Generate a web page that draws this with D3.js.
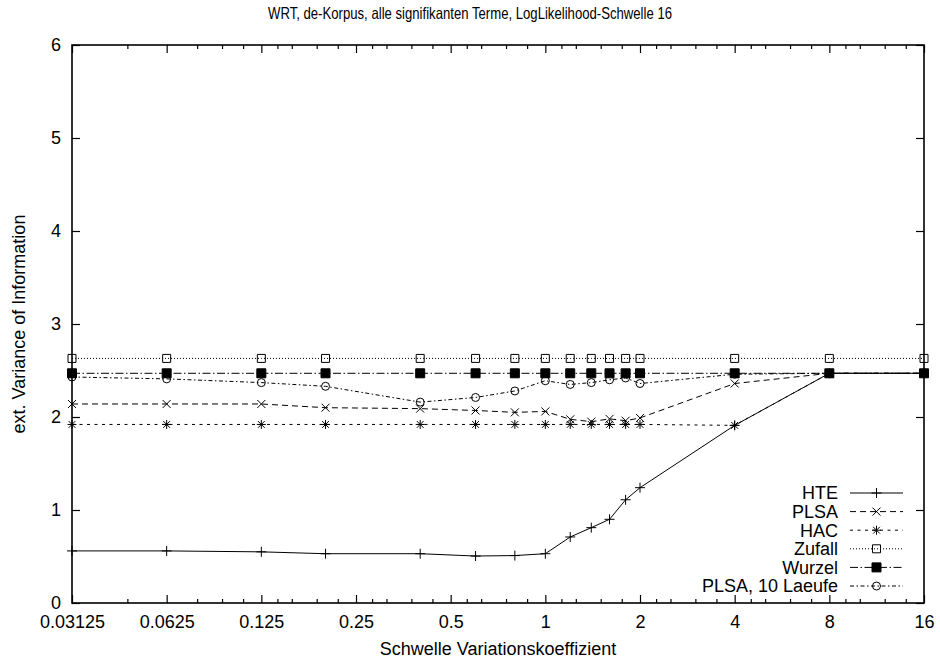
<!DOCTYPE html>
<html>
<head>
<meta charset="utf-8">
<script src="https://cdn.jsdelivr.net/npm/d3@7"></script>
<style>
  body { margin: 0; background: #fff; }
  svg { display: block; }
  text { font-family: "Liberation Sans", Arial, Helvetica, sans-serif; fill: #000; }
</style>
</head>
<body>
<svg id="chart" width="940" height="660"></svg>
<script>
// ---- data ----
const xValues = [0.03125, 0.0625, 0.125, 0.2, 0.4, 0.6, 0.8, 1, 1.2, 1.4, 1.6, 1.8, 2, 4, 8, 16];
const hteValues    = [0.56, 0.56, 0.55, 0.53, 0.53, 0.505, 0.51, 0.53, 0.71, 0.81, 0.90, 1.11, 1.24, 1.91, 2.47, 2.47];
const plsaValues   = [2.14, 2.14, 2.14, 2.10, 2.09, 2.07, 2.05, 2.06, 1.975, 1.95, 1.98, 1.96, 1.99, 2.36, 2.47, 2.47];
const hacValues    = [1.92, 1.92, 1.92, 1.92, 1.92, 1.92, 1.92, 1.92, 1.92, 1.92, 1.92, 1.92, 1.92, 1.91, 2.47, 2.47];
const zufallValues = [2.63, 2.63, 2.63, 2.63, 2.63, 2.63, 2.63, 2.63, 2.63, 2.63, 2.63, 2.63, 2.63, 2.63, 2.63, 2.63];
const wurzelValues = [2.47, 2.47, 2.47, 2.47, 2.47, 2.47, 2.47, 2.47, 2.47, 2.47, 2.47, 2.47, 2.47, 2.47, 2.47, 2.47];
const plsa10Values = [2.43, 2.41, 2.37, 2.33, 2.16, 2.21, 2.28, 2.39, 2.35, 2.37, 2.40, 2.42, 2.36, 2.46, 2.47, 2.47];

const seriesNames = ["HTE", "PLSA", "HAC", "Zufall", "Wurzel", "PLSA, 10 Laeufe"];
const xTickValues = [0.03125, 0.0625, 0.125, 0.25, 0.5, 1, 2, 4, 8, 16];
const xTickLabels = ["0.03125", "0.0625", "0.125", "0.25", "0.5", "1", "2", "4", "8", "16"];
const yTickValues = [0, 1, 2, 3, 4, 5, 6];
const titleText = "WRT, de-Korpus, alle signifikanten Terme, LogLikelihood-Schwelle 16";
const xLabelText = "Schwelle Variationskoeffizient";
const yLabelText = "ext. Variance of Information";

// ---- layout ----
const L = 72, R = 924, T = 45, B = 603;
const svg = d3.select("#chart");

const x = d3.scaleLog().base(2).domain([0.03125, 16]).range([L, R]);
const y = d3.scaleLinear().domain([0, 6]).range([B, T]);

// minor ticks (gnuplot-like)
const minorTicks = [];
xTickValues.slice(0, -1).forEach((base, i) => {
  const mults = i === 0 ? [1.5] : (i === 1 ? [1.25, 1.5, 1.75] : [1.125, 1.25, 1.5, 1.75]);
  mults.forEach(m => minorTicks.push(base * m));
});

const axisStyle = g => {
  g.select(".domain").remove();
  g.selectAll(".tick line").attr("stroke", "#000").attr("stroke-width", 1.2);
  g.selectAll(".tick text").style("font-size", "18px").attr("fill", "#000");
};

// bottom
svg.append("g").attr("transform", `translate(0,${B})`)
  .call(d3.axisBottom(x).tickValues(xTickValues).tickFormat((d, i) => xTickLabels[i]).tickSize(-8).tickPadding(12))
  .call(axisStyle);
svg.append("g").attr("transform", `translate(0,${B})`)
  .call(d3.axisBottom(x).tickValues(minorTicks).tickFormat("").tickSize(-4))
  .call(axisStyle);
// top
svg.append("g").attr("transform", `translate(0,${T})`)
  .call(d3.axisTop(x).tickValues(xTickValues).tickFormat("").tickSize(-8))
  .call(axisStyle);
svg.append("g").attr("transform", `translate(0,${T})`)
  .call(d3.axisTop(x).tickValues(minorTicks).tickFormat("").tickSize(-4))
  .call(axisStyle);
// left
svg.append("g").attr("transform", `translate(${L},0)`)
  .call(d3.axisLeft(y).tickValues(yTickValues).tickFormat(d3.format("d")).tickSize(-8).tickPadding(11))
  .call(axisStyle);
// right
svg.append("g").attr("transform", `translate(${R},0)`)
  .call(d3.axisRight(y).tickValues(yTickValues).tickFormat("").tickSize(-8))
  .call(axisStyle);

svg.selectAll("g").attr("font-family", null);

// frame
svg.append("rect").attr("x", L).attr("y", T).attr("width", R - L).attr("height", B - T)
  .attr("fill", "none").attr("stroke", "#000").attr("stroke-width", 1.6);

// titles
svg.append("text").attr("x", 470).attr("y", 19).attr("text-anchor", "middle")
  .style("font-size", "16.5px").attr("textLength", 404).attr("lengthAdjust", "spacingAndGlyphs").text(titleText);
svg.append("text").attr("x", (L + R) / 2).attr("y", 655).attr("text-anchor", "middle")
  .style("font-size", "18px").text(xLabelText);
svg.append("text").attr("transform", `translate(25,${(T + B) / 2}) rotate(-90)`).attr("text-anchor", "middle")
  .style("font-size", "18px").text(yLabelText);

// ---- markers ----
function markerPath(type, s) {
  const h = s / 2;
  switch (type) {
    case "plus": return `M${-h},0H${h}M0,${-h}V${h}`;
    case "cross": return `M${-h},${-h}L${h},${h}M${-h},${h}L${h},${-h}`;
    case "star": return `M${-h},0H${h}M0,${-h}V${h}M${-h*0.75},${-h*0.75}L${h*0.75},${h*0.75}M${-h*0.75},${h*0.75}L${h*0.75},${-h*0.75}`;
    case "square": return `M${-h},${-h}H${h}V${h}H${-h}Z`;
    case "circle": return `M${h},0A${h},${h},0,1,1,${-h},0A${h},${h},0,1,1,${h},0Z`;
  }
}

const series = [
  { name: seriesNames[0], values: hteValues,    dash: null,            marker: "plus",   size: 10, fill: "none" },
  { name: seriesNames[1], values: plsaValues,   dash: "6,4",           marker: "cross",  size: 8,  fill: "none" },
  { name: seriesNames[2], values: hacValues,    dash: "3,4.5",         marker: "star",   size: 9,  fill: "none" },
  { name: seriesNames[3], values: zufallValues, dash: "1,2",           marker: "square", size: 8,  fill: "none" },
  { name: seriesNames[4], values: wurzelValues, dash: "8,2.5,1.5,2.5", marker: "square", size: 9,  fill: "#000" },
  { name: seriesNames[5], values: plsa10Values, dash: "4,2.5,1.5,2.5", marker: "circle", size: 8,  fill: "none" }
];

const line = d3.line().x(d => x(d[0])).y(d => y(d[1]));

series.forEach(s => {
  const pts = xValues.map((xv, i) => [xv, s.values[i]]);
  const g = svg.append("g");
  g.append("path").attr("d", line(pts)).attr("fill", "none").attr("stroke", "#000")
    .attr("stroke-width", 1).attr("stroke-dasharray", s.dash);
  g.selectAll("path.m").data(pts).join("path").attr("class", "m")
    .attr("transform", d => `translate(${x(d[0])},${y(d[1])})`)
    .attr("d", markerPath(s.marker, s.size))
    .attr("fill", s.fill).attr("stroke", "#000").attr("stroke-width", 1);
});

// ---- legend ----
const legX = 838, legY0 = 493, legDy = 18.6, sampleX0 = 850, sampleX1 = 903;
series.forEach((s, i) => {
  const yy = legY0 + i * legDy;
  const g = svg.append("g");
  g.append("text").attr("x", legX).attr("y", yy).attr("dy", "0.35em").attr("text-anchor", "end")
    .style("font-size", "18px").text(s.name);
  g.append("line").attr("x1", sampleX0).attr("x2", sampleX1).attr("y1", yy).attr("y2", yy)
    .attr("stroke", "#000").attr("stroke-width", 1).attr("stroke-dasharray", s.dash);
  g.append("path").attr("transform", `translate(${(sampleX0 + sampleX1) / 2},${yy})`)
    .attr("d", markerPath(s.marker, s.size)).attr("fill", s.fill).attr("stroke", "#000").attr("stroke-width", 1);
});
</script>
</body>
</html>
